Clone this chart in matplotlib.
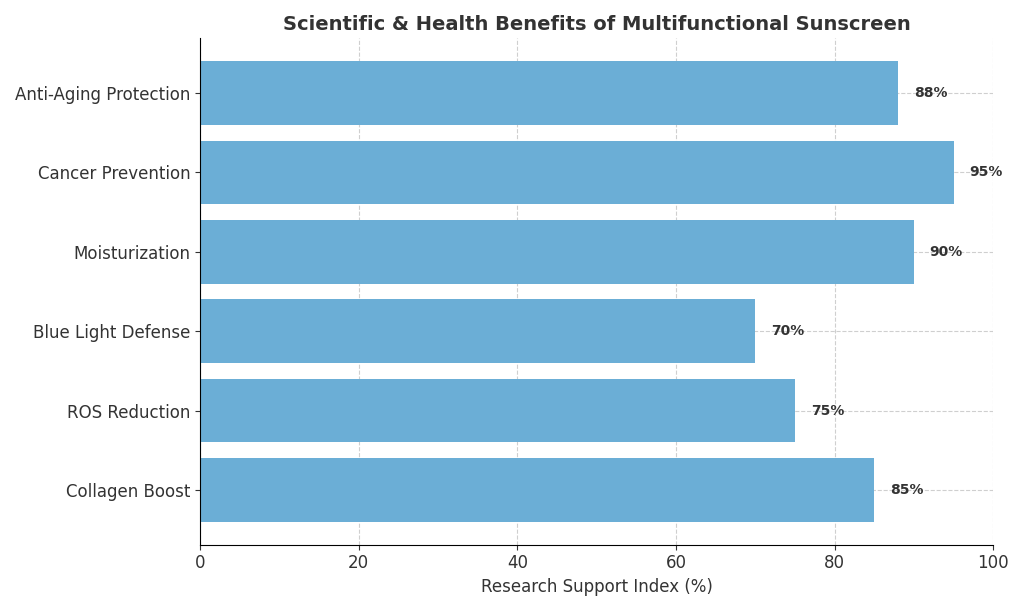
import matplotlib
matplotlib.use("Agg")
import matplotlib.pyplot as plt

categories = ["Collagen Boost", "ROS Reduction", "Blue Light Defense", "Moisturization", "Cancer Prevention", "Anti-Aging Protection"]
values = [85, 75, 70, 90, 95, 88]

fig, ax = plt.subplots(figsize=(10.24, 6.11), dpi=100)
bars = ax.barh(categories, values, color="#6baed6")
for b, v in zip(bars, values):
    ax.text(v + 2, b.get_y() + b.get_height() / 2, f"{v}%", va="center", ha="left",
            fontsize=10, fontweight="bold", color="#333333")
ax.set_xlim(0, 100)
ax.set_xlabel("Research Support Index (%)", fontsize=12, color="#333333")
ax.set_title("Scientific & Health Benefits of Multifunctional Sunscreen", fontsize=14, fontweight="bold", color="#333333")
ax.grid(True, linestyle="--", alpha=0.6)
ax.set_axisbelow(True)
ax.spines["top"].set_visible(False)
ax.spines["right"].set_visible(False)
ax.tick_params(labelsize=12, colors="#333333")
plt.tight_layout()
fig.savefig("out.png", dpi=100)
